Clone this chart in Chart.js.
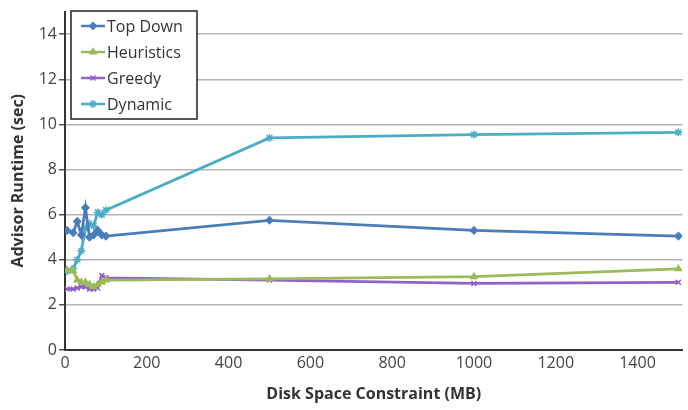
<!DOCTYPE html>
<html>
<head>
<meta charset="utf-8">
<script src="https://cdn.jsdelivr.net/npm/chart.js@4"></script>
<style>
  html, body { margin: 0; padding: 0; background: #fff; }
  #box { width: 688px; height: 410px; position: relative; }
</style>
</head>
<body>
<div id="box"><canvas id="grafico"></canvas></div>
<script>
// disk space (MB) where runs were measured
const espacioMB = [5, 20, 30, 40, 50, 60, 70, 80, 90, 100, 500, 1000, 1500];

// runtimes (sec)
const topDown    = [5.3, 5.2, 5.7, 5.1, 6.3, 5.0, 5.1, 5.3, 5.1, 5.05, 5.75, 5.3, 5.05];
const heuristics = [3.55, 3.5, 3.1, 3.0, 3.0, 2.9, 2.8, 2.9, 3.0, 3.1, 3.15, 3.25, 3.6];
const greedy     = [2.7, 2.7, 2.75, 2.8, 2.8, 2.7, 2.7, 2.75, 3.3, 3.2, 3.1, 2.95, 3.0];
const dynamic    = [3.5, 3.6, 4.0, 4.4, 5.4, 5.6, 5.5, 6.1, 6.0, 6.2, 9.4, 9.55, 9.65];

const ticksX = [0, 200, 400, 600, 800, 1000, 1200, 1400];
const ticksY = [0, 2, 4, 6, 8, 10, 12, 14];

const series = [
  { label: "Top Down",   valores: topDown,    color: "#4a7ebb", punto: "rectRot",  radio: 3.5 },
  { label: "Heuristics", valores: heuristics, color: "#9bbb59", punto: "triangle", radio: 3.5 },
  { label: "Greedy",     valores: greedy,     color: "#9461c4", punto: "crossRot", radio: 3.5 },
  { label: "Dynamic",    valores: dynamic,    color: "#4bacc6", punto: "star",     radio: 4 }
];

const FUENTE = "'Open Sans', 'Liberation Sans', sans-serif";

// legend box drawn by hand (line + marker like the original)
const leyendaCaja = {
  id: "leyendaCaja",
  afterDraw(chart) {
    const ctx = chart.ctx;
    const x0 = 71, y0 = 11, w = 126, h = 108;
    ctx.save();
    ctx.fillStyle = "#fff";
    ctx.fillRect(x0, y0, w, h);
    ctx.strokeStyle = "#222";
    ctx.lineWidth = 1.5;
    ctx.strokeRect(x0, y0, w, h);
    ctx.font = "16px " + FUENTE;
    ctx.textBaseline = "middle";
    series.forEach((s, i) => {
      const y = 26 + i * 26;
      ctx.strokeStyle = s.color;
      ctx.fillStyle = s.color;
      ctx.lineWidth = 2.5;
      ctx.beginPath();
      ctx.moveTo(81, y);
      ctx.lineTo(105, y);
      ctx.stroke();
      ctx.lineWidth = 1.5;
      Chart.helpers.drawPoint(ctx, {
        pointStyle: s.punto, radius: s.radio, borderWidth: 1.5
      }, 93, y);
      ctx.fillStyle = "#333";
      ctx.fillText(s.label, 107, y + 1);
    });
    ctx.restore();
  }
};

const ctx = document.getElementById("grafico");
new Chart(ctx, {
  type: "line",
  data: {
    datasets: series.map(s => ({
      label: s.label,
      data: espacioMB.map((x, i) => ({ x: x, y: s.valores[i] })),
      borderColor: s.color,
      backgroundColor: s.color,
      pointStyle: s.punto,
      pointRadius: s.radio,
      pointBorderColor: s.color,
      pointBorderWidth: 1.5,
      borderWidth: 2.8,
      tension: 0,
      fill: false
    }))
  },
  options: {
    responsive: true,
    maintainAspectRatio: false,
    animation: false,
    layout: { padding: { top: 10, right: 0, left: 0, bottom: 0 } },
    plugins: {
      legend: { display: false },
      tooltip: { enabled: false }
    },
    scales: {
      x: {
        type: "linear",
        min: 0,
        max: 1510,
        afterBuildTicks: sc => { sc.ticks = ticksX.map(v => ({ value: v })); },
        afterFit: sc => { sc.height = 60; },
        grid: { display: false, drawTicks: false },
        border: { display: true, color: "#333", width: 2 },
        ticks: {
          color: "#444", font: { size: 16, family: FUENTE }, padding: 4, maxRotation: 0,
          callback: v => String(v)
        },
        title: {
          display: true,
          text: "Disk Space Constraint (MB)",
          color: "#333",
          font: { size: 16, weight: "bold", family: FUENTE },
          padding: { top: 2, bottom: 6 }
        }
      },
      y: {
        min: 0,
        max: 15,
        afterBuildTicks: sc => { sc.ticks = ticksY.map(v => ({ value: v })); },
        afterFit: sc => { sc.width = 65; },
        grid: { color: "#b4b4b4", lineWidth: 1.5, tickColor: "#555", tickLength: 6 },
        border: { display: true, color: "#333", width: 2 },
        ticks: { color: "#444", font: { size: 16, family: FUENTE }, padding: 2 },
        title: {
          display: true,
          text: "Advisor Runtime (sec)",
          color: "#333",
          font: { size: 16, weight: "bold", family: FUENTE },
          padding: { top: 9, bottom: 0 }
        }
      }
    }
  },
  plugins: [leyendaCaja]
});
</script>
</body>
</html>
